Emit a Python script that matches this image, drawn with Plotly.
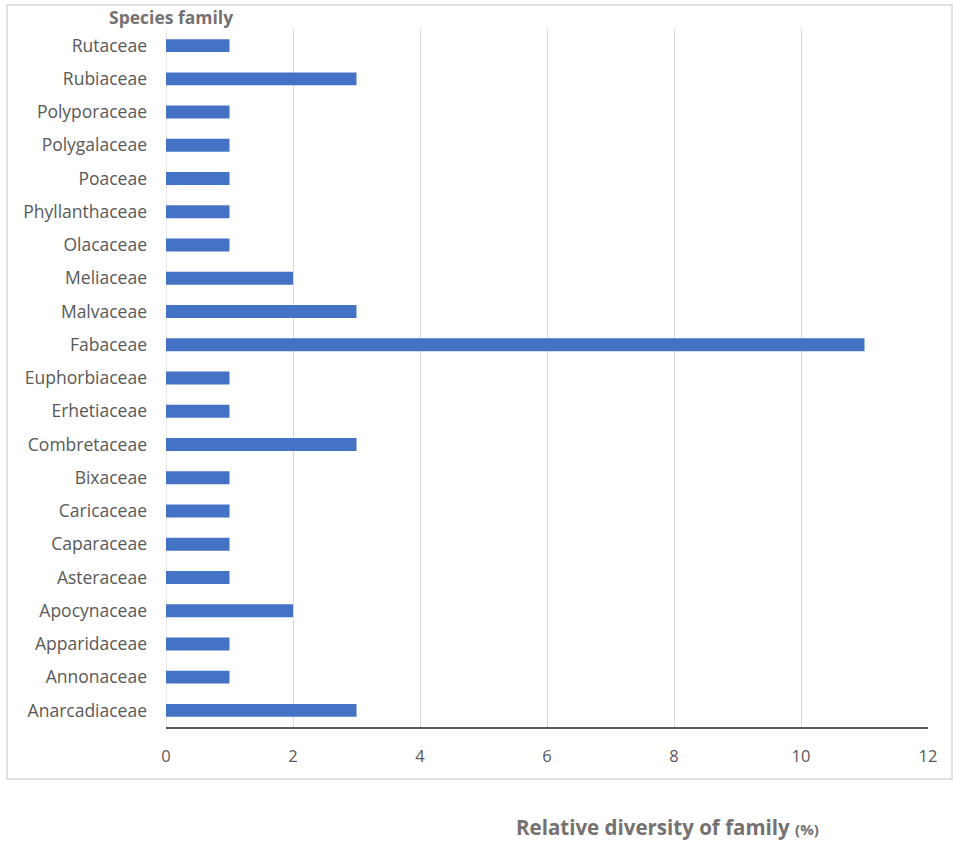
import plotly.graph_objects as go

# Families listed bottom-to-top as they appear on the category axis
families = [
    "Anarcadiaceae", "Annonaceae", "Apparidaceae", "Apocynaceae", "Asteraceae",
    "Caparaceae", "Caricaceae", "Bixaceae", "Combretaceae", "Erhetiaceae",
    "Euphorbiaceae", "Fabaceae", "Malvaceae", "Meliaceae", "Olacaceae",
    "Phyllanthaceae", "Poaceae", "Polygalaceae", "Polyporaceae", "Rubiaceae",
    "Rutaceae",
]
diversity = [3, 1, 1, 2, 1, 1, 1, 1, 3, 1, 1, 11, 3, 2, 1, 1, 1, 1, 1, 3, 1]
x_ticks = [0, 2, 4, 6, 8, 10, 12]

FONT = "Open Sans"
TEXT_GREY = "#595959"
TITLE_GREY = "#767171"

fig = go.Figure(
    go.Bar(
        x=diversity,
        y=families,
        orientation="h",
        marker=dict(color="#4472C4", line=dict(width=0)),
        width=0.39,
    )
)

fig.update_layout(
    width=953,
    height=841,
    margin=dict(l=166, r=25, t=29, b=114),
    paper_bgcolor="white",
    plot_bgcolor="white",
    showlegend=False,
    font=dict(family=FONT, color=TEXT_GREY, size=17),
    xaxis=dict(
        range=[0, 12],
        tickvals=x_ticks,
        ticktext=[str(v) for v in x_ticks],
        showgrid=True,
        gridcolor="#D9D9D9",
        gridwidth=1,
        zeroline=False,
        showline=True,
        linecolor="#595959",
        linewidth=2,
        ticks="",
        ticklabelstandoff=13,
        tickfont=dict(family=FONT, size=16.5, color=TEXT_GREY),
        fixedrange=True,
    ),
    yaxis=dict(
        categoryorder="array",
        categoryarray=families,
        range=[-0.5, len(families) - 0.5],
        showgrid=False,
        zeroline=False,
        showline=False,
        ticks="",
        ticklabelstandoff=18,
        tickfont=dict(family=FONT, size=17.5, color=TEXT_GREY),
        fixedrange=True,
    ),
    shapes=[
        # chart-area frame
        dict(
            type="rect", xref="paper", yref="paper",
            x0=-0.2087, x1=1.0315, y0=-0.0745, y1=1.0344,
            line=dict(color="#D9D9D9", width=1.5), fillcolor="rgba(0,0,0,0)",
            layer="below",
        ),
        # light vertical line at x = 0
        dict(
            type="line", xref="x", yref="paper",
            x0=0, x1=0, y0=0, y1=1,
            line=dict(color="#D9D9D9", width=1), layer="below",
        ),
    ],
    annotations=[
        dict(
            text="<b>Species family</b>",
            xref="paper", yref="paper",
            x=(171 - 166) / 762, y=(727 - 17) / 698,
            xanchor="center", yanchor="middle", showarrow=False,
            font=dict(family=FONT, size=17.5, color=TITLE_GREY),
        ),
        dict(
            text="<b>Relative diversity of family</b> <b><span style='font-size:15px'>(%)</span></b>",
            xref="paper", yref="paper",
            x=(667 - 166) / 762, y=(727 - 827) / 698,
            xanchor="center", yanchor="middle", showarrow=False,
            font=dict(family=FONT, size=20.5, color=TITLE_GREY),
        ),
    ],
)

fig.write_html("out.html")
